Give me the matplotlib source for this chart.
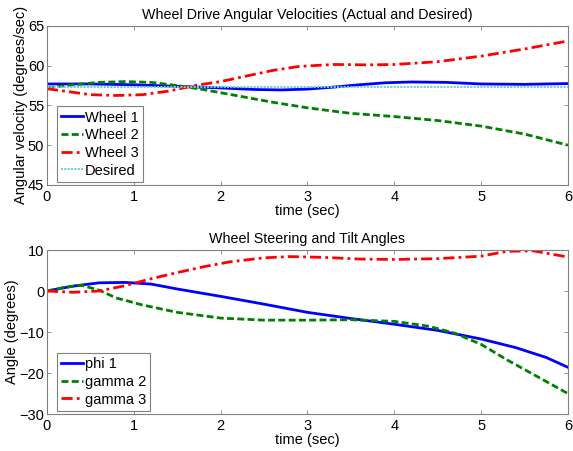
import matplotlib
matplotlib.use('Agg')
import matplotlib.pyplot as plt

plt.rcParams['font.family'] = ['Liberation Sans', 'DejaVu Sans']
plt.rcParams['font.size'] = 10.5

# top panel: wheel drive angular velocities (deg/sec)
t_w1 = [0, 0.5, 1.0, 1.5, 2.0, 2.4, 2.7, 3.0, 3.3, 3.6, 3.9, 4.2, 4.6, 5.0, 5.5, 6.0]
wheel1 = [57.7, 57.7, 57.6, 57.4, 57.2, 57.0, 56.95, 57.05, 57.3, 57.6, 57.85, 57.95, 57.9, 57.7, 57.65, 57.75]
t_w2 = [0, 0.3, 0.6, 0.9, 1.2, 1.5, 1.8, 2.0, 2.3, 2.6, 3.0, 3.5, 4.0, 4.5, 5.0, 5.5, 6.0]
wheel2 = [57.2, 57.6, 57.9, 58.0, 57.9, 57.5, 57.0, 56.6, 56.0, 55.4, 54.7, 54.0, 53.6, 53.1, 52.4, 51.4, 50.0]
t_w3 = [0, 0.2, 0.5, 0.8, 1.1, 1.4, 1.7, 2.0, 2.3, 2.6, 2.9, 3.3, 3.7, 4.0, 4.5, 5.0, 5.5, 6.0]
wheel3 = [57.1, 56.8, 56.35, 56.25, 56.35, 56.8, 57.5, 58.0, 58.7, 59.4, 59.9, 60.15, 60.1, 60.15, 60.5, 61.2, 62.1, 63.1]
t_des = [0, 6]
desired = [57.3, 57.3]

# bottom panel: steering and tilt angles (degrees)
t_phi = [0, 0.3, 0.6, 0.9, 1.2, 1.5, 2.0, 2.5, 3.0, 3.5, 4.0, 4.5, 5.0, 5.4, 5.75, 6.0]
phi1 = [0, 1.2, 2.0, 2.1, 1.7, 0.5, -1.3, -3.2, -5.2, -6.7, -8.1, -9.6, -11.7, -13.8, -16.2, -18.6]
t_g2 = [0, 0.2, 0.4, 0.6, 0.8, 1.1, 1.5, 2.0, 2.5, 3.0, 3.5, 4.0, 4.4, 4.7, 5.0, 5.3, 5.6, 6.0]
gamma2 = [0, 0.9, 1.4, 0.2, -1.7, -3.4, -5.2, -6.6, -7.1, -7.1, -7.0, -7.4, -8.6, -10.3, -13.0, -16.8, -20.3, -25.0]
t_g3 = [0, 0.3, 0.6, 0.9, 1.2, 1.5, 1.8, 2.1, 2.5, 2.8, 3.2, 3.6, 4.0, 4.5, 5.0, 5.3, 5.6, 6.0]
gamma3 = [0, -0.3, 0.0, 1.3, 3.0, 4.5, 5.9, 7.1, 8.1, 8.4, 8.2, 7.8, 7.7, 7.9, 8.5, 9.7, 9.8, 8.3]

BLUE, GREEN, RED, CYAN = '#0000ff', '#008000', '#ff0000', '#6fd0d0'

fig = plt.figure(figsize=(5.73, 4.51), dpi=100)
ax1 = fig.add_axes([0.082, 0.590, 0.909, 0.3525])
ax2 = fig.add_axes([0.082, 0.082, 0.909, 0.3636])

ax1.plot(t_w1, wheel1, color=BLUE, lw=2, label='Wheel 1')
ax1.plot(t_w2, wheel2, color=GREEN, lw=2, ls=(0, (2.5, 1.2)), label='Wheel 2')
ax1.plot(t_w3, wheel3, color=RED, lw=2, ls=(0, (4, 1.5, 1, 1.5)), label='Wheel 3')
ax1.plot(t_des, desired, color=CYAN, lw=1.5, ls=(0, (1, 0.6)), label='Desired')
ax1.set_xlim(0, 6)
ax1.set_ylim(45, 65)
ax1.set_yticks([45, 50, 55, 60, 65])
ax1.set_title('Wheel Drive Angular Velocities (Actual and Desired)', fontsize=10.3, pad=5)
ax1.set_xlabel('time (sec)', labelpad=0)
ax1.set_ylabel('Angular velocity (degrees/sec)', labelpad=0)

ax2.plot(t_phi, phi1, color=BLUE, lw=2, label='phi 1')
ax2.plot(t_g2, gamma2, color=GREEN, lw=2, ls=(0, (2.5, 1.2)), label='gamma 2')
ax2.plot(t_g3, gamma3, color=RED, lw=2, ls=(0, (4, 1.5, 1, 1.5)), label='gamma 3')
ax2.set_xlim(0, 6)
ax2.set_ylim(-30, 10)
ax2.set_yticks([-30, -20, -10, 0, 10])
ax2.set_title('Wheel Steering and Tilt Angles', fontsize=10.3, pad=5)
ax2.set_xlabel('time (sec)', labelpad=0)
ax2.set_ylabel('Angle (degrees)', labelpad=0)

for ax in (ax1, ax2):
    ax.tick_params(direction='in', top=True, right=True, length=3, width=0.6,
                   color='#808080', labelsize=10.5, pad=2)
    ax.tick_params(axis='x', pad=3.5)
    for s in ax.spines.values():
        s.set_color('#808080')
        s.set_linewidth(0.8)
    leg = ax.legend(loc='lower left', bbox_to_anchor=(0.019, 0.019), borderaxespad=0,
                    fancybox=False, framealpha=1, edgecolor='#808080', fontsize=10.5,
                    handlelength=1.5, handletextpad=0.1, labelspacing=0.25, borderpad=0.3)
    leg.get_frame().set_linewidth(0.8)

plt.savefig('out.png', dpi=100)
